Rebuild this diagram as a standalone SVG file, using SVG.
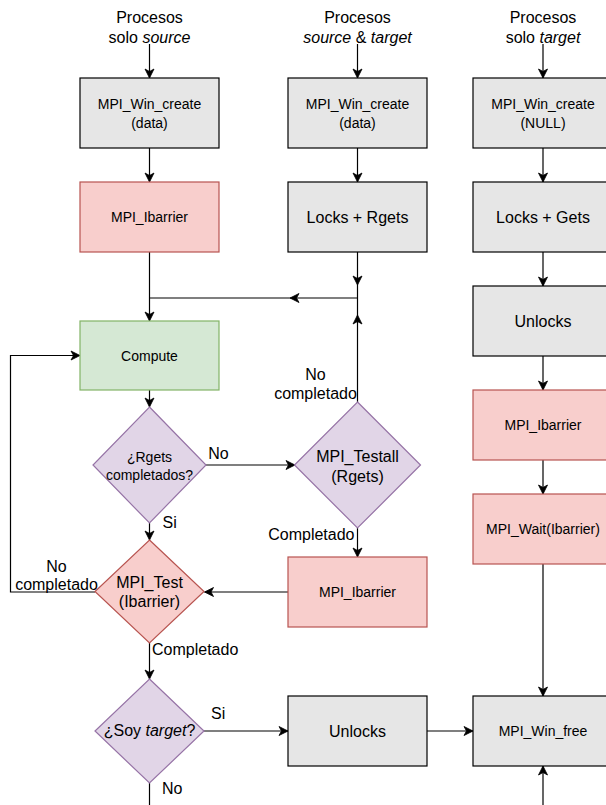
<svg xmlns="http://www.w3.org/2000/svg" width="606" height="805" viewBox="0 0 606 805">
  <defs>
    <marker id="arrow" markerUnits="userSpaceOnUse" markerWidth="12" markerHeight="12" viewBox="-10 -6 12 12" refX="0" refY="0" orient="auto">
      <path d="M0,0 L-9,-4.5 L-6.5,0 L-9,4.5 Z" fill="#000" stroke="#000" stroke-width="0.8" stroke-linejoin="miter"/>
    </marker>
    <style>
      text { font-family: "Liberation Sans", Arial, Helvetica, sans-serif; fill: #000; }
      .t14 { font-size: 14px; text-anchor: middle; }
      .t16 { font-size: 16px; text-anchor: middle; }
      .lbl { font-size: 16px; }
      .gray { fill: #e6e6e6; stroke: #000; stroke-width: 1.2; }
      .red { fill: #f8cecc; stroke: #b85450; stroke-width: 1.2; }
      .green { fill: #d5e8d4; stroke: #82b366; stroke-width: 1.2; }
      .purple { fill: #e1d5e7; stroke: #9673a6; stroke-width: 1.2; }
      .edge { fill: none; stroke: #000; stroke-width: 1.2; }
      .arr { marker-end: url(#arrow); }
    </style>
  </defs>

  <rect width="606" height="805" fill="#fff"/>

  <!-- Column headings -->
  <g id="head-source">
    <text class="t16" x="149.5" y="23">Procesos</text>
    <text class="t16" x="149.5" y="42.5">solo <tspan font-style="italic">source</tspan></text>
  </g>
  <g id="head-both">
    <text class="t16" x="357.5" y="23">Procesos</text>
    <text class="t16" x="357.5" y="42.5"><tspan font-style="italic">source</tspan> &amp; <tspan font-style="italic">target</tspan></text>
  </g>
  <g id="head-target">
    <text class="t16" x="543" y="23">Procesos</text>
    <text class="t16" x="543" y="42.5">solo <tspan font-style="italic">target</tspan></text>
  </g>

  <!-- Connectors -->
  <g id="connectors">
    <!-- headings to window creation -->
    <path class="edge arr" d="M149.5,44 V78"/>
    <path class="edge arr" d="M357.5,44 V78"/>
    <path class="edge arr" d="M543,44 V78"/>

    <!-- column 1 -->
    <path class="edge arr" d="M149.5,148 V182"/>
    <path class="edge arr" d="M149.5,252 V321"/>
    <path class="edge arr" d="M149.5,390 V407"/>
    <path class="edge arr" d="M149.5,523 V540"/>
    <path class="edge arr" d="M149.5,643 V679"/>
    <path class="edge" d="M149.5,783 V805"/>

    <!-- column 2 -->
    <path class="edge arr" d="M357.5,148 V182"/>
    <path class="edge arr" d="M357.5,252 V285"/>
    <path class="edge" d="M357.5,285 V315"/>
    <path class="edge arr" d="M357.5,402 V315"/>
    <path class="edge arr" d="M357.5,298 H290"/>
    <path class="edge" d="M290,298 H149.5"/>
    <path class="edge arr" d="M357.5,528 V557"/>
    <path class="edge arr" d="M288,592 H204.5"/>

    <!-- decision links -->
    <path class="edge arr" d="M206,465 H295"/>
    <path class="edge arr" d="M95,592 H10.5 V355.5 H80"/>
    <path class="edge arr" d="M204,731 H288"/>
    <path class="edge arr" d="M427,731 H473"/>

    <!-- column 3 -->
    <path class="edge arr" d="M543,148 V182"/>
    <path class="edge arr" d="M543,252 V286"/>
    <path class="edge arr" d="M543,356 V390"/>
    <path class="edge arr" d="M543,460 V494"/>
    <path class="edge arr" d="M543,564 V696"/>
    <path class="edge arr" d="M543,805 V766"/>

    <!-- edge labels -->
    <text class="lbl" x="218.5" y="458.5" text-anchor="middle">No</text>
    <text class="lbl" x="162.5" y="527.5">Si</text>
    <text class="lbl" x="354.5" y="539.5" text-anchor="end">Completado</text>
    <text class="lbl" x="315.5" y="380" text-anchor="middle">No</text>
    <text class="lbl" x="315.5" y="398.5" text-anchor="middle">completado</text>
    <text class="lbl" x="56.5" y="571.5" text-anchor="middle">No</text>
    <text class="lbl" x="56.5" y="589.5" text-anchor="middle">completado</text>
    <text class="lbl" x="152" y="655">Completado</text>
    <text class="lbl" x="211" y="719">Si</text>
    <text class="lbl" x="162" y="794">No</text>
  </g>

  <!-- Column 1: source-only processes -->
  <g id="win-create-src">
    <rect class="gray" x="80" y="78" width="139" height="70"/>
    <text class="t14" x="149.5" y="108.5">MPI_Win_create</text>
    <text class="t14" x="149.5" y="128">(data)</text>
  </g>
  <g id="ibarrier-src">
    <rect class="red" x="80" y="182" width="139" height="70"/>
    <text class="t14" x="149.5" y="222">MPI_Ibarrier</text>
  </g>
  <g id="compute">
    <rect class="green" x="80" y="321" width="139" height="69"/>
    <text class="t14" x="149.5" y="360.5">Compute</text>
  </g>
  <g id="rgets-done">
    <polygon class="purple" points="149.5,407 206,465 149.5,523 93,465"/>
    <text class="t14" x="149.5" y="461.5">¿Rgets</text>
    <text class="t14" x="149.5" y="480">completados?</text>
  </g>
  <g id="test-ibarrier">
    <polygon class="red" points="149.5,540 204,591.5 149.5,643 95,591.5"/>
    <text class="t16" x="149.5" y="588">MPI_Test</text>
    <text class="t16" x="149.5" y="607">(Ibarrier)</text>
  </g>
  <g id="is-target">
    <polygon class="purple" points="149.5,679 204,731 149.5,783 95,731"/>
    <text class="t16" x="149.5" y="736">¿Soy <tspan font-style="italic">target</tspan>?</text>
  </g>

  <!-- Column 2: source and target processes -->
  <g id="win-create-both">
    <rect class="gray" x="288" y="78" width="139" height="70"/>
    <text class="t14" x="357.5" y="108.5">MPI_Win_create</text>
    <text class="t14" x="357.5" y="128">(data)</text>
  </g>
  <g id="locks-rgets">
    <rect class="gray" x="288" y="182" width="139" height="70"/>
    <text class="t16" x="357.5" y="222.5">Locks + Rgets</text>
  </g>
  <g id="testall">
    <polygon class="purple" points="357.5,402 420.5,465 357.5,528 294.5,465"/>
    <text class="t16" x="357.5" y="462">MPI_Testall</text>
    <text class="t16" x="357.5" y="481.5">(Rgets)</text>
  </g>
  <g id="ibarrier-both">
    <rect class="red" x="288" y="557" width="139" height="70"/>
    <text class="t14" x="357.5" y="597">MPI_Ibarrier</text>
  </g>
  <g id="unlocks-both">
    <rect class="gray" x="288" y="696" width="139" height="70"/>
    <text class="t16" x="357.5" y="736.5">Unlocks</text>
  </g>

  <!-- Column 3: target-only processes -->
  <g id="win-create-tgt">
    <rect class="gray" x="473" y="78" width="140" height="70"/>
    <text class="t14" x="543" y="108.5">MPI_Win_create</text>
    <text class="t14" x="543" y="128">(NULL)</text>
  </g>
  <g id="locks-gets">
    <rect class="gray" x="473" y="182" width="140" height="70"/>
    <text class="t16" x="543" y="222.5">Locks + Gets</text>
  </g>
  <g id="unlocks-tgt">
    <rect class="gray" x="473" y="286" width="140" height="70"/>
    <text class="t16" x="543" y="326.5">Unlocks</text>
  </g>
  <g id="ibarrier-tgt">
    <rect class="red" x="473" y="390" width="140" height="70"/>
    <text class="t14" x="543" y="430">MPI_Ibarrier</text>
  </g>
  <g id="wait-ibarrier">
    <rect class="red" x="473" y="494" width="140" height="70"/>
    <text class="t14" x="543" y="534">MPI_Wait(Ibarrier)</text>
  </g>
  <g id="win-free">
    <rect class="gray" x="473" y="696" width="140" height="70"/>
    <text class="t14" x="543" y="736">MPI_Win_free</text>
  </g>
</svg>
